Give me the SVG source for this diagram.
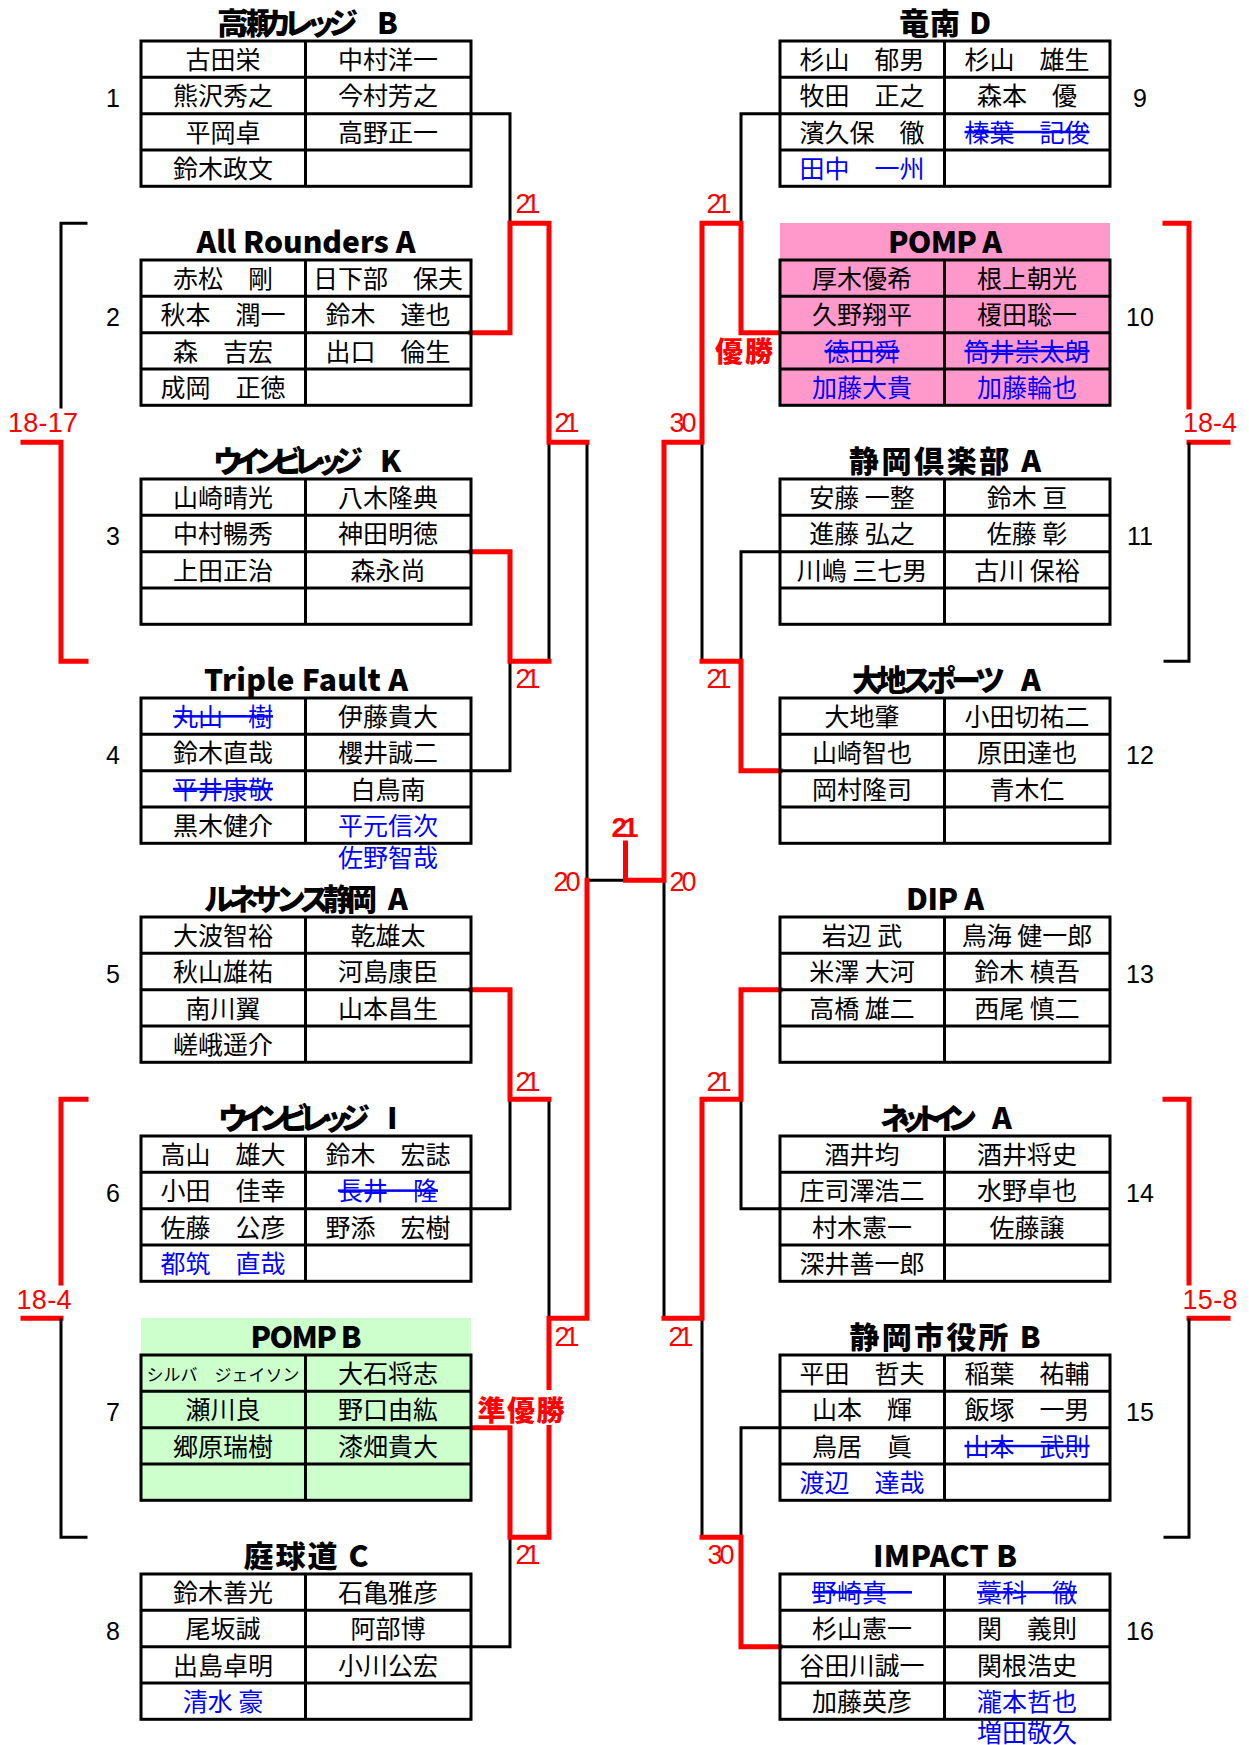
<svg xmlns="http://www.w3.org/2000/svg" xmlns:xlink="http://www.w3.org/1999/xlink" width="1249" height="1745" viewBox="0 0 1249 1745">
<style>
.tb{fill:none;stroke:#000;stroke-width:3}
.nm{font-family:"Noto Sans CJK JP","Noto Sans CJK SC",sans-serif;font-size:25px;text-anchor:middle;fill:#000}
.bl{fill:#0000ff}
.st{text-decoration:line-through}
.ti{font-family:"Noto Sans CJK JP","Noto Sans CJK SC",sans-serif;font-weight:900;font-size:30px;text-anchor:middle;fill:#000}
.ts{text-anchor:start}
.num{font-family:"Liberation Sans",Arial,sans-serif;font-size:25px;text-anchor:middle;fill:#000}
.sc{font-family:"Liberation Sans",Arial,sans-serif;font-size:27px;text-anchor:middle;fill:#ff0000}
.scb{font-family:"Liberation Sans",Arial,sans-serif;font-size:28px;font-weight:bold;text-anchor:middle;fill:#ff0000}
.win{font-family:"Noto Sans CJK JP","Noto Sans CJK SC",sans-serif;font-size:28px;font-weight:900;text-anchor:middle;fill:#ff0000}
.k{fill:none;stroke:#000;stroke-width:3;stroke-linejoin:miter;stroke-linecap:square}
.r{fill:none;stroke:#ff0000;stroke-width:5;stroke-linejoin:miter;stroke-linecap:square}
</style>
<defs>
<g id="grid"><rect x="0" y="0" width="330" height="145.3" class="tb"/><path d="M164.5 0V145.3M0 36.3H330M0 72.7H330M0 109H330" class="tb"/></g>
</defs>
<rect width="1249" height="1745" fill="#fff"/>

<g id="connectors">
<path class="k" d="M471 113.7H510V223.2"/>
<path class="k" d="M471 770.7H510V661.2"/>
<path class="k" d="M549 661.2V442.2"/>
<path class="k" d="M587 442.2V880.2H625.5"/>
<path class="k" d="M471 1208.7H510V1099.2"/>
<path class="k" d="M549 1099.2V1318.2"/>
<path class="k" d="M471 1646.7H510V1537.2"/>
<path class="k" d="M780 113.7H741V223.2"/>
<path class="k" d="M780 551.7H741V661.2"/>
<path class="k" d="M702 442.2V661.2"/>
<path class="k" d="M664 880.2V1318.2"/>
<path class="k" d="M780 1208.7H741V1099.2"/>
<path class="k" d="M702 1318.2V1537.2"/>
<path class="k" d="M780 1427.7H741V1537.2"/>
<path class="r" d="M471 332.7H510V223.2H549V442.2H587"/>
<path class="r" d="M471 551.7H510V661.2H549"/>
<path class="r" d="M471 989.7H510V1099.2H549"/>
<path class="r" d="M471 1427.7H510V1537.2H549V1318.2H587V880.2"/>
<path class="r" d="M780 332.7H741V223.2H702V442.2H664V880.2H625.5V843"/>
<path class="r" d="M780 770.7H741V661.2H702"/>
<path class="r" d="M780 989.7H741V1099.2H702V1318.2H664"/>
<path class="r" d="M780 1646.7H741V1537.2H702"/>
<path class="k" d="M86 223.2H61V407"/>
<path class="r" d="M23 442.2H61V661.2H86"/>
<path class="r" d="M86 1099.2H61V1283"/>
<path class="r" d="M23 1318.2H61"/>
<path class="k" d="M61 1320V1537.2H86"/>
<path class="r" d="M1165 223.2H1189V407"/>
<path class="r" d="M1228 442.2H1189"/>
<path class="k" d="M1189 444V661.2H1165"/>
<path class="r" d="M1165 1099.2H1189V1283"/>
<path class="r" d="M1228 1318.2H1189"/>
<path class="k" d="M1189 1320V1537.2H1165"/>
<text class="sc" x="528" y="213" textLength="25">21</text>
<text class="sc" x="719" y="213" textLength="25">21</text>
<text class="sc" x="567" y="432" textLength="25">21</text>
<text class="sc" x="683" y="432" textLength="27">30</text>
<text class="sc" x="528" y="688" textLength="25">21</text>
<text class="sc" x="719" y="688" textLength="25">21</text>
<text class="sc" x="567" y="891" textLength="27">20</text>
<text class="sc" x="683" y="891" textLength="27">20</text>
<text class="sc" x="528" y="1091" textLength="25">21</text>
<text class="sc" x="719" y="1091" textLength="25">21</text>
<text class="sc" x="567" y="1346" textLength="25">21</text>
<text class="sc" x="681" y="1346" textLength="25">21</text>
<text class="sc" x="528" y="1564" textLength="25">21</text>
<text class="sc" x="721" y="1564" textLength="27">30</text>
<text class="scb" x="625" y="837" textLength="27">21</text>
<text class="sc" x="43" y="432" textLength="70">18-17</text>
<text class="sc" x="44" y="1309" textLength="55">18-4</text>
<text class="sc" x="1210" y="432" textLength="54">18-4</text>
<text class="sc" x="1210" y="1309" textLength="55">15-8</text>
<text class="win" x="744" y="362" textLength="58">優勝</text>
<rect x="476" y="1390" width="91" height="35" fill="#fff"/>
<text class="win" x="521" y="1421" textLength="87">準優勝</text>
</g>

<g id="team1" transform="translate(141,41)">
<text class="ti ts" x="76" y="-7" textLength="141">高瀬カレッジ</text><text class="ti ts" x="236" y="-7">B</text>
<use xlink:href="#grid"/>
<text class="nm" x="82" y="28">古田栄</text><text class="nm" x="247" y="28">中村洋一</text>
<text class="nm" x="82" y="64.3">熊沢秀之</text><text class="nm" x="247" y="64.3">今村芳之</text>
<text class="nm" x="82" y="100.7">平岡卓</text><text class="nm" x="247" y="100.7">高野正一</text>
<text class="nm" x="82" y="137">鈴木政文</text>
<text class="num" x="-28" y="66">1</text>
</g>

<g id="team2" transform="translate(141,260)">
<text class="ti" x="165" y="-7" textLength="219">All Rounders A</text>
<use xlink:href="#grid"/>
<text class="nm" x="82" y="28">赤松　剛</text><text class="nm" x="247" y="28">日下部　保夫</text>
<text class="nm" x="82" y="64.3">秋本　潤一</text><text class="nm" x="247" y="64.3">鈴木　達也</text>
<text class="nm" x="82" y="100.7">森　吉宏</text><text class="nm" x="247" y="100.7">出口　倫生</text>
<text class="nm" x="82" y="137">成岡　正徳</text>
<text class="num" x="-28" y="66">2</text>
</g>

<g id="team3" transform="translate(141,479)">
<text class="ti ts" x="72" y="-7" textLength="150">ウインビレッジ</text><text class="ti ts" x="239" y="-7">K</text>
<use xlink:href="#grid"/>
<text class="nm" x="82" y="28">山崎晴光</text><text class="nm" x="247" y="28">八木隆典</text>
<text class="nm" x="82" y="64.3">中村暢秀</text><text class="nm" x="247" y="64.3">神田明徳</text>
<text class="nm" x="82" y="100.7">上田正治</text><text class="nm" x="247" y="100.7">森永尚</text>
<text class="num" x="-28" y="66">3</text>
</g>

<g id="team4" transform="translate(141,698)">
<text class="ti" x="165" y="-7" textLength="204">Triple Fault A</text>
<use xlink:href="#grid"/>
<text class="nm bl st" x="82" y="28">丸山一樹</text><text class="nm" x="247" y="28">伊藤貴大</text>
<text class="nm" x="82" y="64.3">鈴木直哉</text><text class="nm" x="247" y="64.3">櫻井誠二</text>
<text class="nm bl st" x="82" y="100.7">平井康敬</text><text class="nm" x="247" y="100.7">白鳥南</text>
<text class="nm" x="82" y="137">黒木健介</text><text class="nm bl" x="247" y="137">平元信次</text>
<text class="nm bl" x="247" y="169">佐野智哉</text>
<text class="num" x="-28" y="66">4</text>
</g>

<g id="team5" transform="translate(141,917)">
<text class="ti ts" x="63" y="-7" textLength="173">ルネサンス静岡</text><text class="ti ts" x="247" y="-7">A</text>
<use xlink:href="#grid"/>
<text class="nm" x="82" y="28">大波智裕</text><text class="nm" x="247" y="28">乾雄太</text>
<text class="nm" x="82" y="64.3">秋山雄祐</text><text class="nm" x="247" y="64.3">河島康臣</text>
<text class="nm" x="82" y="100.7">南川翼</text><text class="nm" x="247" y="100.7">山本昌生</text>
<text class="nm" x="82" y="137">嵯峨遥介</text>
<text class="num" x="-28" y="66">5</text>
</g>

<g id="team6" transform="translate(141,1136)">
<text class="ti ts" x="77" y="-7" textLength="152">ウインビレッジ</text><text class="ti ts" x="246" y="-7">I</text>
<use xlink:href="#grid"/>
<text class="nm" x="82" y="28">高山　雄大</text><text class="nm" x="247" y="28">鈴木　宏誌</text>
<text class="nm" x="82" y="64.3">小田　佳幸</text><text class="nm bl st" x="247" y="64.3">長井　隆</text>
<text class="nm" x="82" y="100.7">佐藤　公彦</text><text class="nm" x="247" y="100.7">野添　宏樹</text>
<text class="nm bl" x="82" y="137">都筑　直哉</text>
<text class="num" x="-28" y="66">6</text>
</g>

<g id="team7" transform="translate(141,1355)">
<rect x="0" y="-37" width="330" height="182.3" fill="#ccffcc"/>
<text class="ti" x="165" y="-7" textLength="111">POMP B</text>
<use xlink:href="#grid"/>
<text class="nm" x="82" y="26" style="font-size:17px" textLength="153">シルバ　ジェイソン</text><text class="nm" x="247" y="28">大石将志</text>
<text class="nm" x="82" y="64.3">瀬川良</text><text class="nm" x="247" y="64.3">野口由紘</text>
<text class="nm" x="82" y="100.7">郷原瑞樹</text><text class="nm" x="247" y="100.7">漆畑貴大</text>
<text class="num" x="-28" y="66">7</text>
</g>

<g id="team8" transform="translate(141,1574)">
<text class="ti" x="165" y="-7" textLength="125">庭球道 C</text>
<use xlink:href="#grid"/>
<text class="nm" x="82" y="28">鈴木善光</text><text class="nm" x="247" y="28">石亀雅彦</text>
<text class="nm" x="82" y="64.3">尾坂誠</text><text class="nm" x="247" y="64.3">阿部博</text>
<text class="nm" x="82" y="100.7">出島卓明</text><text class="nm" x="247" y="100.7">小川公宏</text>
<text class="nm bl" x="82" y="137">清水 豪</text>
<text class="num" x="-28" y="66">8</text>
</g>

<g id="team9" transform="translate(780,41)">
<text class="ti" x="165" y="-7" textLength="92">竜南 D</text>
<use xlink:href="#grid"/>
<text class="nm" x="82" y="28">杉山　郁男</text><text class="nm" x="247" y="28">杉山　雄生</text>
<text class="nm" x="82" y="64.3">牧田　正之</text><text class="nm" x="247" y="64.3">森本　優</text>
<text class="nm" x="82" y="100.7">濱久保　徹</text><text class="nm bl st" x="247" y="100.7">榛葉　記俊</text>
<text class="nm bl" x="82" y="137">田中　一州</text>
<text class="num" x="360" y="66">9</text>
</g>

<g id="team10" transform="translate(780,260)">
<rect x="0" y="-37" width="330" height="182.3" fill="#ff99cc"/>
<text class="ti" x="165" y="-7" textLength="114">POMP A</text>
<use xlink:href="#grid"/>
<text class="nm" x="82" y="28">厚木優希</text><text class="nm" x="247" y="28">根上朝光</text>
<text class="nm" x="82" y="64.3">久野翔平</text><text class="nm" x="247" y="64.3">榎田聡一</text>
<text class="nm bl st" x="82" y="100.7">徳田舜</text><text class="nm bl st" x="247" y="100.7">筒井崇太朗</text>
<text class="nm bl" x="82" y="137">加藤大貴</text><text class="nm bl" x="247" y="137">加藤輪也</text>
<text class="num" x="360" y="66">10</text>
</g>

<g id="team11" transform="translate(780,479)">
<text class="ti" x="165" y="-7" textLength="192">静岡倶楽部 A</text>
<use xlink:href="#grid"/>
<text class="nm" x="82" y="28">安藤 一整</text><text class="nm" x="247" y="28">鈴木 亘</text>
<text class="nm" x="82" y="64.3">進藤 弘之</text><text class="nm" x="247" y="64.3">佐藤 彰</text>
<text class="nm" x="82" y="100.7">川嶋 三七男</text><text class="nm" x="247" y="100.7">古川 保裕</text>
<text class="num" x="360" y="66">11</text>
</g>

<g id="team12" transform="translate(780,698)">
<text class="ti ts" x="72" y="-7" textLength="153">大地スポーツ</text><text class="ti ts" x="241" y="-7">A</text>
<use xlink:href="#grid"/>
<text class="nm" x="82" y="28">大地肇</text><text class="nm" x="247" y="28">小田切祐二</text>
<text class="nm" x="82" y="64.3">山崎智也</text><text class="nm" x="247" y="64.3">原田達也</text>
<text class="nm" x="82" y="100.7">岡村隆司</text><text class="nm" x="247" y="100.7">青木仁</text>
<text class="num" x="360" y="66">12</text>
</g>

<g id="team13" transform="translate(780,917)">
<text class="ti" x="165" y="-7" textLength="78">DIP A</text>
<use xlink:href="#grid"/>
<text class="nm" x="82" y="28">岩辺 武</text><text class="nm" x="247" y="28">鳥海 健一郎</text>
<text class="nm" x="82" y="64.3">米澤 大河</text><text class="nm" x="247" y="64.3">鈴木 槙吾</text>
<text class="nm" x="82" y="100.7">高橋 雄二</text><text class="nm" x="247" y="100.7">西尾 慎二</text>
<text class="num" x="360" y="66">13</text>
</g>

<g id="team14" transform="translate(780,1136)">
<text class="ti ts" x="100" y="-7" textLength="97">ネットイン</text><text class="ti ts" x="212" y="-7">A</text>
<use xlink:href="#grid"/>
<text class="nm" x="82" y="28">酒井均</text><text class="nm" x="247" y="28">酒井将史</text>
<text class="nm" x="82" y="64.3">庄司澤浩二</text><text class="nm" x="247" y="64.3">水野卓也</text>
<text class="nm" x="82" y="100.7">村木憲一</text><text class="nm" x="247" y="100.7">佐藤譲</text>
<text class="nm" x="82" y="137">深井善一郎</text>
<text class="num" x="360" y="66">14</text>
</g>

<g id="team15" transform="translate(780,1355)">
<text class="ti" x="165" y="-7" textLength="191">静岡市役所 B</text>
<use xlink:href="#grid"/>
<text class="nm" x="82" y="28">平田　哲夫</text><text class="nm" x="247" y="28">稲葉　祐輔</text>
<text class="nm" x="82" y="64.3">山本　輝</text><text class="nm" x="247" y="64.3">飯塚　一男</text>
<text class="nm" x="82" y="100.7">鳥居　眞</text><text class="nm bl st" x="247" y="100.7">山本　武則</text>
<text class="nm bl" x="82" y="137">渡辺　達哉</text>
<text class="num" x="360" y="66">15</text>
</g>

<g id="team16" transform="translate(780,1574)">
<text class="ti" x="165" y="-7" textLength="144">IMPACT B</text>
<use xlink:href="#grid"/>
<text class="nm bl st" x="82" y="28">野崎真一</text><text class="nm bl st" x="247" y="28">藁科　徹</text>
<text class="nm" x="82" y="64.3">杉山憲一</text><text class="nm" x="247" y="64.3">関　義則</text>
<text class="nm" x="82" y="100.7">谷田川誠一</text><text class="nm" x="247" y="100.7">関根浩史</text>
<text class="nm" x="82" y="137">加藤英彦</text><text class="nm bl" x="247" y="137">瀧本哲也</text>
<text class="nm bl" x="247" y="168">増田敬久</text>
<text class="num" x="360" y="66">16</text>
</g>
</svg>
